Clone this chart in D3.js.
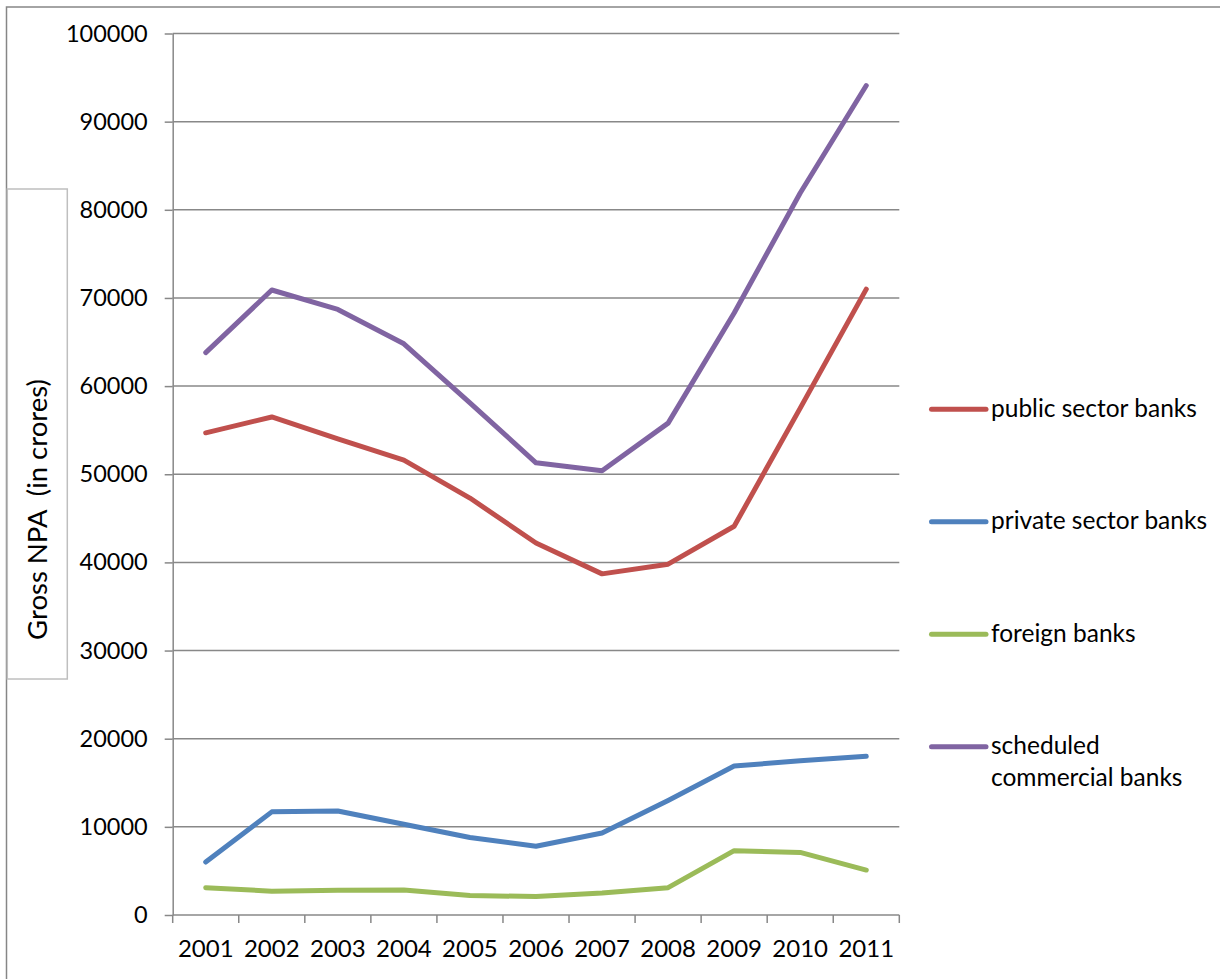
<!DOCTYPE html>
<html>
<head>
<meta charset="utf-8">
<script src="https://cdn.jsdelivr.net/npm/d3@7/dist/d3.min.js"></script>
<style>
  html, body { margin: 0; padding: 0; background: #fff; }
  svg { display: block; }
  text { font-family: Lato, "Open Sans", sans-serif; fill: #000; }
</style>
</head>
<body>
<svg id="chart" width="1220" height="979"></svg>
<script>
// Gross NPA by bank group, 2001–2011 (in crores)
const years = ["2001","2002","2003","2004","2005","2006","2007","2008","2009","2010","2011"];
const publicSector    = [54700, 56500, 54000, 51600, 47300, 42200, 38700, 39800, 44100, 57500, 71000];
const privateSector   = [6000, 11700, 11800, 10300, 8800, 7800, 9300, 13000, 16900, 17500, 18000];
const foreignBanks    = [3100, 2700, 2800, 2840, 2200, 2100, 2500, 3100, 7300, 7100, 5100];
const scheduledBanks  = [63800, 70900, 68700, 64800, 58100, 51300, 50400, 55800, 68300, 81900, 94100];
const seriesNames     = ["public sector banks", "private sector banks", "foreign banks", "scheduled commercial banks"];
const yTicks          = [0, 10000, 20000, 30000, 40000, 50000, 60000, 70000, 80000, 90000, 100000];
const yTitle          = "Gross NPA  (in crores)";

const series = [
  { name: seriesNames[0], values: publicSector,   color: "#C0504D" },
  { name: seriesNames[1], values: privateSector,  color: "#4F81BD" },
  { name: seriesNames[2], values: foreignBanks,   color: "#9BBB59" },
  { name: seriesNames[3], values: scheduledBanks, color: "#8064A2" }
];

const svg = d3.select("#chart");
const plot = { left: 172.7, right: 899.3, top: 33.5, bottom: 915 };
const gridColor = "#888888";

// outer chart frame (runs off the right and bottom edges)
svg.append("rect")
  .attr("x", 6.5).attr("y", 7)
  .attr("width", 1300).attr("height", 1100)
  .attr("fill", "#fff").attr("stroke", "#868686").attr("stroke-width", 1.5);

const x = d3.scaleBand().domain(years).range([plot.left, plot.right]).padding(0);
const y = d3.scaleLinear().domain([0, 100000]).range([plot.bottom, plot.top]);

// horizontal gridlines
svg.append("g")
  .selectAll("line").data(yTicks.slice(1)).join("line")
  .attr("x1", plot.left).attr("x2", plot.right)
  .attr("y1", d => y(d)).attr("y2", d => y(d))
  .attr("stroke", gridColor).attr("stroke-width", 1.5);

// y axis
const yAxis = svg.append("g")
  .attr("transform", `translate(${plot.left},0)`)
  .call(d3.axisLeft(y).tickValues(yTicks).tickFormat(d3.format("d")).tickSizeInner(8).tickSizeOuter(0).tickPadding(17));
yAxis.select(".domain").attr("stroke", gridColor).attr("stroke-width", 1.5);
yAxis.selectAll(".tick line").attr("stroke", gridColor).attr("stroke-width", 1.5);
yAxis.selectAll(".tick text").attr("font-size", 23.5).attr("font-family", "Lato, sans-serif").attr("fill", "#000");

// x axis line with ticks at category boundaries
const xBoundaries = years.map(d => x(d)).concat([plot.right]);
svg.append("line")
  .attr("x1", plot.left).attr("x2", plot.right)
  .attr("y1", plot.bottom).attr("y2", plot.bottom)
  .attr("stroke", gridColor).attr("stroke-width", 1.5);
svg.append("g").selectAll("line").data(xBoundaries).join("line")
  .attr("x1", d => d).attr("x2", d => d)
  .attr("y1", plot.bottom).attr("y2", plot.bottom + 8)
  .attr("stroke", gridColor).attr("stroke-width", 1.5);
svg.append("g").selectAll("text").data(years).join("text")
  .attr("x", d => x(d) + x.bandwidth() / 2)
  .attr("y", 957)
  .attr("text-anchor", "middle")
  .attr("font-size", 24)
  .text(d => d);

// series lines
const line = d3.line()
  .x((d, i) => x(years[i]) + x.bandwidth() / 2)
  .y(d => y(d));
svg.append("g").selectAll("path").data(series).join("path")
  .attr("d", d => line(d.values))
  .attr("fill", "none")
  .attr("stroke", d => d.color)
  .attr("stroke-width", 5)
  .attr("stroke-linecap", "round")
  .attr("stroke-linejoin", "round");

// y axis title box
svg.append("rect")
  .attr("x", 7.3).attr("y", 189)
  .attr("width", 60).attr("height", 490)
  .attr("fill", "#fff").attr("stroke", "#BFBFBF").attr("stroke-width", 1.5);
svg.append("text")
  .attr("transform", "translate(46.5,509.5) rotate(-90)")
  .attr("text-anchor", "middle")
  .attr("font-size", 27.5)
  .attr("xml:space", "preserve")
  .style("white-space", "pre")
  .text(yTitle);

// legend
const legendY = [409.3, 521.7, 634.3, 746.7];
const legend = svg.append("g").selectAll("g").data(series).join("g")
  .attr("transform", (d, i) => `translate(0,${legendY[i]})`);
legend.append("line")
  .attr("x1", 931.5).attr("x2", 986)
  .attr("y1", 0).attr("y2", 0)
  .attr("stroke", d => d.color)
  .attr("stroke-width", 5)
  .attr("stroke-linecap", "round");
legend.append("text")
  .attr("x", 991).attr("y", 7.5)
  .attr("font-size", 24.5)
  .each(function (d) {
    const t = d3.select(this);
    if (d.name === "scheduled commercial banks") {
      t.append("tspan").attr("x", 991).attr("dy", 0).text("scheduled");
      t.append("tspan").attr("x", 991).attr("dy", 32).text("commercial banks");
    } else {
      t.text(d.name);
    }
  });
</script>
</body>
</html>
